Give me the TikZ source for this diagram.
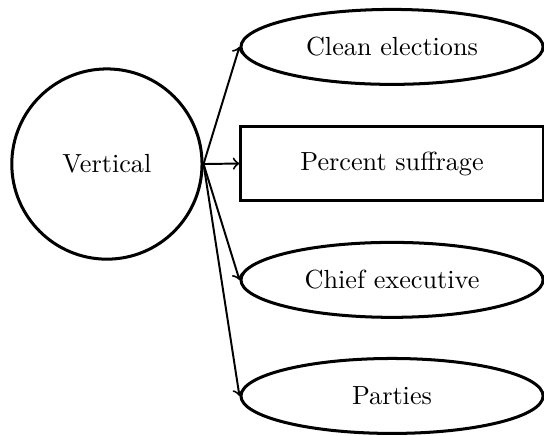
\documentclass[tikz,border=0pt]{standalone}
\usetikzlibrary{shapes.geometric}
\begin{document}
\begin{tikzpicture}[x=1pt,y=1pt,
  shapeline/.style={draw=black, line width=1.15pt, inner sep=0pt},
  hub/.style={shapeline, circle, minimum size=72.6pt},
  oval/.style={shapeline, ellipse, minimum width=115.3pt, minimum height=28.6pt},
  boxnode/.style={shapeline, rectangle, minimum width=115.3pt, minimum height=28.6pt},
  link/.style={->, line width=0.75pt}]
  \useasboundingbox (0,0) rectangle (207.6,166);

  \node[hub] (vert) at (40.8,103.4) {Vertical};

  \node[oval]    (clean)   at (149.6,148.1) {Clean elections};
  \node[boxnode] (suff)    at (149.6,103.6) {Percent suffrage};
  \node[oval]    (chief)   at (149.6,59.2)  {Chief executive};
  \node[oval]    (parties) at (149.6,14.9)  {Parties};

  \draw[link] (vert.east) -- (clean.west);
  \draw[link] (vert.east) -- (suff.west);
  \draw[link] (vert.east) -- (chief.west);
  \draw[link] (vert.east) -- (parties.west);
\end{tikzpicture}
\end{document}
